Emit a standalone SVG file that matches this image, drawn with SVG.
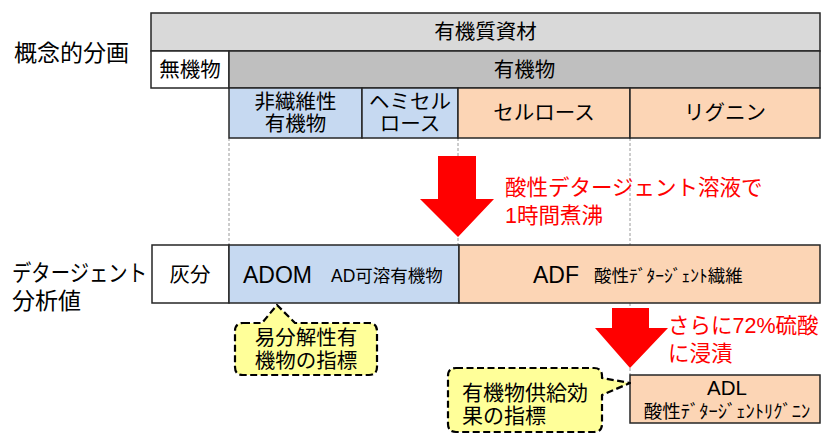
<svg xmlns="http://www.w3.org/2000/svg" width="821" height="434" viewBox="0 0 821 434">
<style>
text{font-family:"Liberation Sans","Noto Sans CJK JP",sans-serif;fill:#000}
.c{stroke:#262626;stroke-width:1.5}
.g1{fill:#d9d9d9}.g2{fill:#bfbfbf}.w{fill:#fff}.b{fill:#c6d9f1}.o{fill:#fcd5b5}
.t20{font-size:20.5px}.t22{font-size:23px}.t17{font-size:17.5px}.t18{font-size:18.5px}.t21{font-size:21px}
.red{fill:#ff0000;font-size:21.5px}
.guide{stroke:#9a9a9a;stroke-width:1;stroke-dasharray:3 2;fill:none}
.call{fill:#ffff99;stroke:#000;stroke-width:2.2;stroke-dasharray:7 3.5;stroke-linejoin:round}
.arrow{fill:#ff0000}
</style>
<rect width="821" height="434" fill="#fff"/>
<g id="connectors">
<line class="guide" x1="229" y1="138" x2="229" y2="245"/>
<line class="guide" x1="458" y1="138" x2="458" y2="245"/>
<line class="guide" x1="630" y1="138" x2="630" y2="245"/>
<line class="guide" x1="630" y1="303" x2="630" y2="375"/>
</g>
<g id="label-gainen"><text class="t22" x="14" y="61">概念的分画</text></g>
<g id="label-detergent"><text class="t22" x="12" y="281" textLength="135" lengthAdjust="spacingAndGlyphs">デタージェント</text><text class="t22" x="12" y="309">分析値</text></g>
<g id="n-yukishitsu"><rect class="c g1" x="151" y="13" width="669" height="38"/><text class="t20" x="485.5" y="39" text-anchor="middle">有機質資材</text></g>
<g id="n-mukibutsu"><rect class="c w" x="151" y="51" width="78" height="37"/><text class="t20" x="190" y="77" text-anchor="middle">無機物</text></g>
<g id="n-yukibutsu"><rect class="c g2" x="229" y="51" width="591" height="37"/><text class="t20" x="524.5" y="77" text-anchor="middle">有機物</text></g>
<g id="n-hisen"><rect class="c b" x="229" y="88" width="133" height="50"/><text class="t20" x="295.5" y="109" text-anchor="middle">非繊維性</text><text class="t20" x="295.5" y="131" text-anchor="middle">有機物</text></g>
<g id="n-hemi"><rect class="c b" x="362" y="88" width="96" height="50"/><text class="t20" x="410" y="109" text-anchor="middle">ヘミセル</text><text class="t20" x="410" y="131" text-anchor="middle">ロース</text></g>
<g id="n-cellulose"><rect class="c o" x="458" y="88" width="172" height="50"/><text class="t20" x="544" y="120" text-anchor="middle">セルロース</text></g>
<g id="n-lignin"><rect class="c o" x="630" y="88" width="190" height="50"/><text class="t20" x="725" y="120" text-anchor="middle">リグニン</text></g>
<g id="n-kaibun"><rect class="c w" x="152" y="245" width="77" height="58"/><text class="t20" x="190" y="282" text-anchor="middle">灰分</text></g>
<g id="n-adom"><rect class="c b" x="229" y="245" width="230" height="58"/><text class="t22" x="243" y="283">ADOM</text><text class="t17" x="331" y="282">AD可溶有機物</text></g>
<g id="n-adf"><rect class="c o" x="459" y="245" width="361" height="58"/><text class="t22" x="533" y="283">ADF</text><text class="t17" x="594" y="282">酸性ﾃﾞﾀｰｼﾞｪﾝﾄ繊維</text></g>
<g id="n-adl"><rect class="c o" x="630" y="375" width="190" height="48"/><text class="t20" x="727" y="395" text-anchor="middle">ADL</text><text class="t18" x="727" y="418" text-anchor="middle">酸性ﾃﾞﾀｰｼﾞｪﾝﾄﾘｸﾞﾆﾝ</text></g>
<g id="arrow1"><polygon class="arrow" points="438,156 476,156 476,199 494,199 458,237 420,199 438,199"/></g>
<g id="arrow1-label"><text class="red" x="505" y="195">酸性デタージェント溶液で</text><text class="red" x="505" y="223">1時間煮沸</text></g>
<g id="arrow2"><polygon class="arrow" points="612,308 649,308 649,328 668,328 630,368 595,328 612,328"/></g>
<g id="arrow2-label"><text class="red" x="668" y="333">さらに72%硫酸</text><text class="red" x="668" y="361">に浸漬</text></g>
<g id="callout1"><path class="call" d="M243,323 L262,323 L277,305 L295,323 L369,323 Q377,323 377,331 L377,367 Q377,375 369,375 L243,375 Q235,375 235,367 L235,331 Q235,323 243,323 Z"/><text class="t20" x="306" y="345" text-anchor="middle">易分解性有</text><text class="t20" x="306" y="368" text-anchor="middle">機物の指標</text></g>
<g id="callout2"><path class="call" d="M456,368 L594,368 Q602,368 602,376 L602,378 L630,383 L602,395 L602,424 Q602,432 594,432 L456,432 Q448,432 448,424 L448,376 Q448,368 456,368 Z"/><text class="t21" x="462" y="400">有機物供給効</text><text class="t21" x="462" y="423">果の指標</text></g>
</svg>
